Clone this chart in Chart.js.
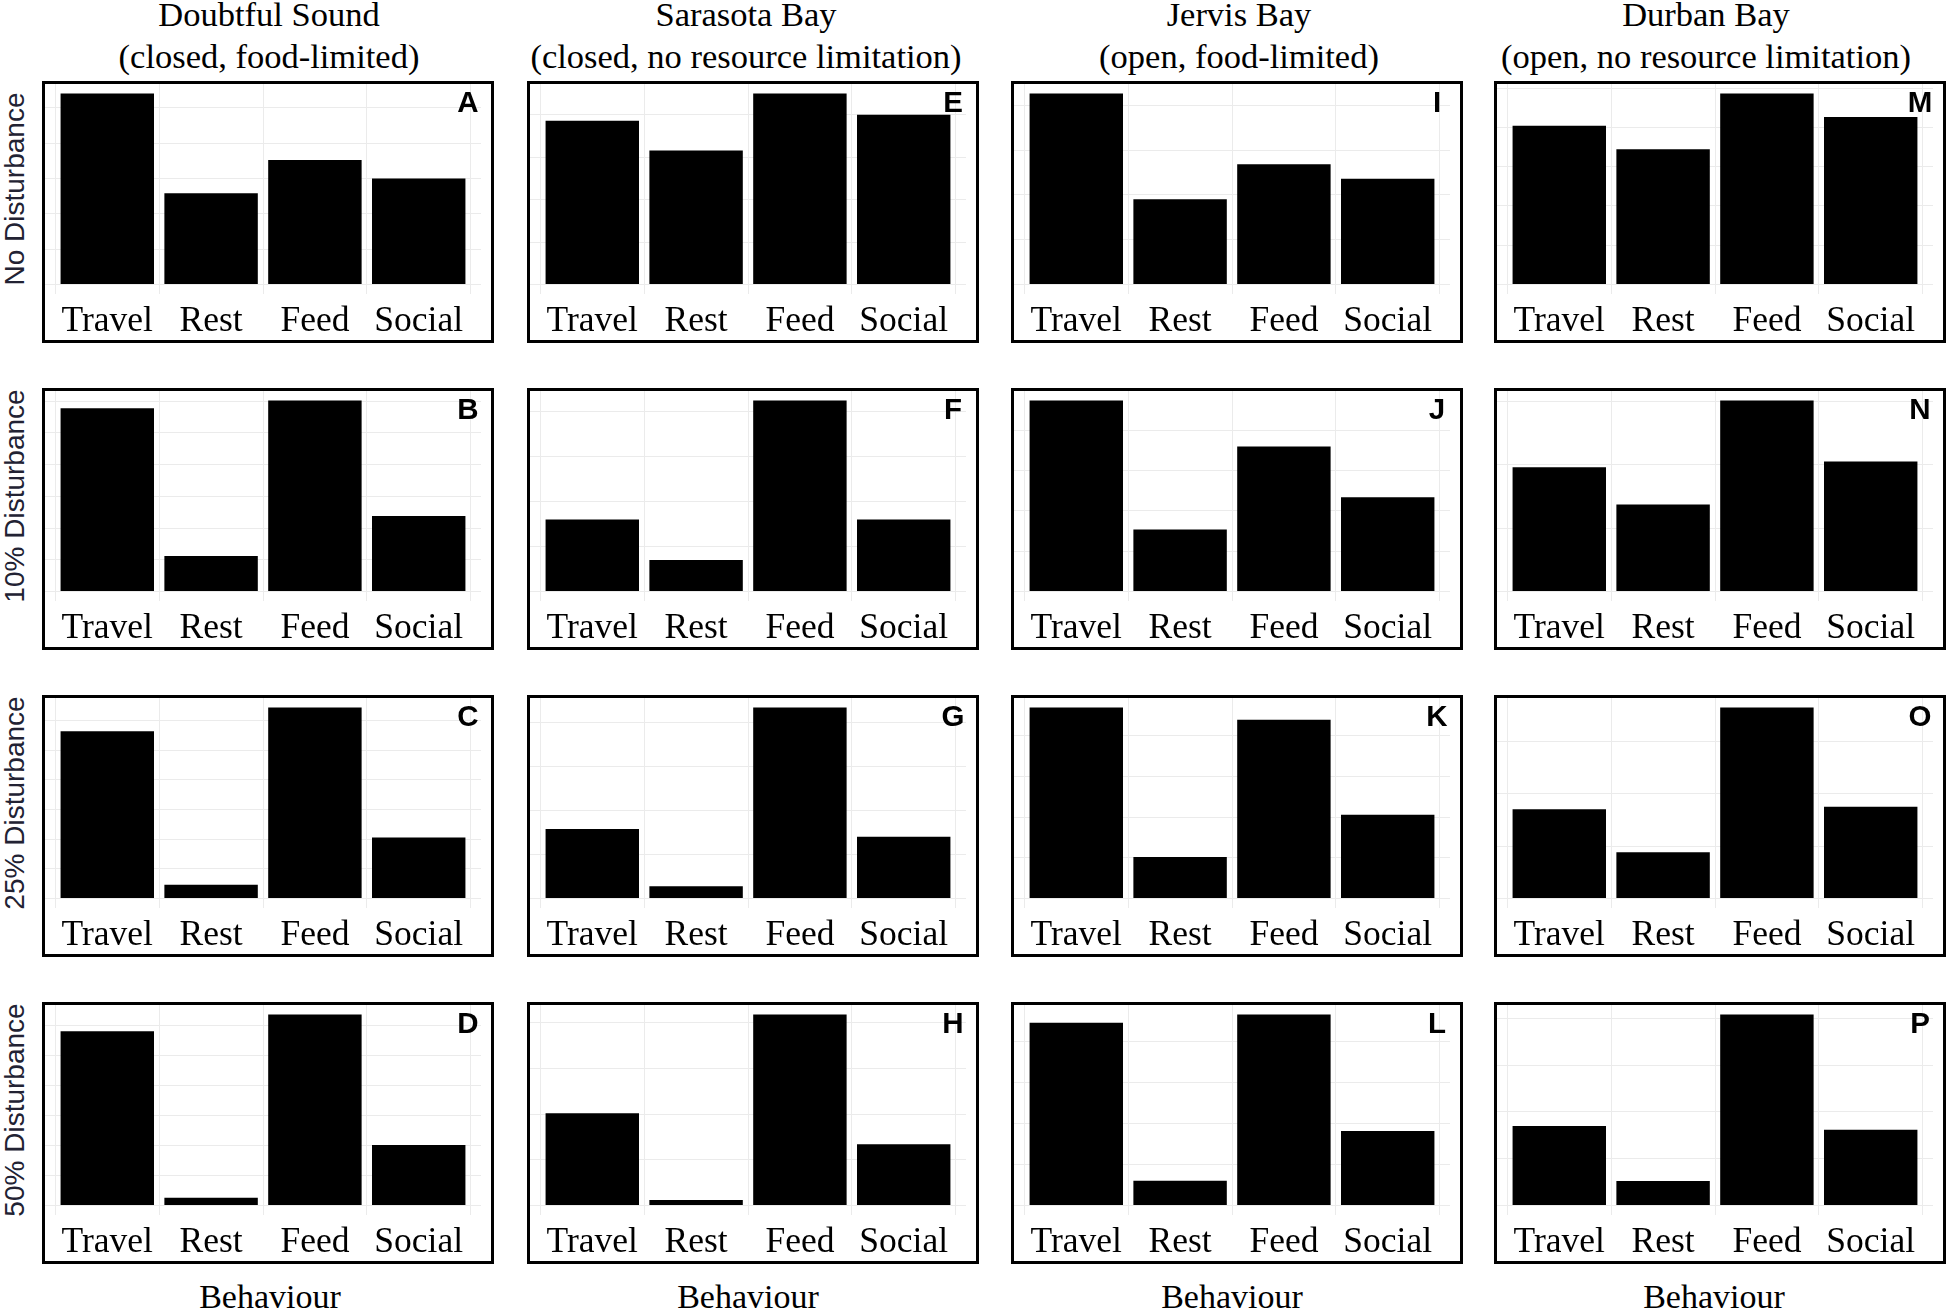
<!DOCTYPE html>
<html>
<head>
<meta charset="utf-8">
<script src="https://cdn.jsdelivr.net/npm/chart.js@4.4.1/dist/chart.umd.min.js"></script>
<style>
    html, body { margin: 0; padding: 0; background: #fff; }
    #page { position: relative; width: 1950px; height: 1313px; overflow: hidden; background: #fff; }
    .panel { position: absolute; width: 452px; height: 262px; border: 3px solid #000; box-sizing: border-box; background: #fff; }
    .panel canvas { position: absolute; left: 0; top: 0; }
    .site { position: absolute; width: 640px; text-align: center; white-space: nowrap;
            font-family: 'Liberation Serif', 'Times New Roman', serif; font-size: 34.5px; line-height: 42px; color: #000; }
    .xtitle { position: absolute; width: 300px; text-align: center; white-space: nowrap;
              font-family: 'Liberation Serif', 'Times New Roman', serif; font-size: 34px; line-height: 34px; color: #000; }
    .rowlab { position: absolute; width: 320px; height: 28px; line-height: 28px; text-align: center; white-space: nowrap;
              font-family: 'Liberation Sans', Arial, sans-serif; font-size: 28px; color: #222233; transform: rotate(-90deg); }
    .letter { position: absolute; width: 50px; text-align: center;
              font-family: 'Liberation Sans', Arial, sans-serif; font-weight: bold; font-size: 29.5px; line-height: 29.5px; color: #000; }
</style>
</head>
<body>
<div id="page"></div>
<script>
// categories and labels
const behaviours = ['Travel', 'Rest', 'Feed', 'Social'];
const siteNames = ['Doubtful Sound', 'Sarasota Bay', 'Jervis Bay', 'Durban Bay'];
const siteNotes = ['(closed, food-limited)', '(closed, no resource limitation)', '(open, food-limited)', '(open, no resource limitation)'];
const disturbanceLevels = ['No Disturbance', '10% Disturbance', '25% Disturbance', '50% Disturbance'];
const panelLetters = [
    ['A', 'B', 'C', 'D'],
    ['E', 'F', 'G', 'H'],
    ['I', 'J', 'K', 'L'],
    ['M', 'N', 'O', 'P']
];
const xAxisTitle = 'Behaviour';

// values per site, one row per disturbance level (Travel, Rest, Feed, Social)
const doubtfulSound = [
    [0.270, 0.129, 0.176, 0.150],
    [0.289, 0.056, 0.301, 0.119],
    [0.282, 0.023, 0.322, 0.103],
    [0.291, 0.013, 0.319, 0.101]
];
const sarasotaBay = [
    [0.193, 0.158, 0.225, 0.200],
    [0.080, 0.035, 0.212, 0.080],
    [0.079, 0.014, 0.217, 0.070],
    [0.101, 0.006, 0.209, 0.067]
];
const jervisBay = [
    [0.213, 0.095, 0.134, 0.118],
    [0.237, 0.077, 0.180, 0.117],
    [0.235, 0.051, 0.220, 0.103],
    [0.223, 0.030, 0.233, 0.091]
];
const durbanBay = [
    [0.202, 0.172, 0.243, 0.213],
    [0.196, 0.137, 0.301, 0.205],
    [0.085, 0.044, 0.182, 0.0875],
    [0.085, 0.026, 0.204, 0.081]
];
const siteValues = [doubtfulSound, sarasotaBay, jervisBay, durbanBay];

// grid line spacing of each panel (free y scales)
const gridSteps = [
    [0.05, 0.05, 0.05, 0.05],
    [0.05, 0.05, 0.05, 0.05],
    [0.05, 0.05, 0.05, 0.05],
    [0.05, 0.1, 0.05, 0.05]
];

// layout (px)
const colLeft = [42, 527, 1011, 1494];
const rowTop = [81, 388, 695, 1002];
const titleCenter = [269, 746, 1239, 1706];
const xTitleCenter = [270, 748, 1232, 1714];
const PANEL_W = 452;
const PANEL_H = 262;
const BORDER = 3;

const page = document.getElementById('page');

function addDiv(cls, text, left, top) {
    const el = document.createElement('div');
    el.className = cls;
    el.textContent = text;
    el.style.left = left + 'px';
    el.style.top = top + 'px';
    page.appendChild(el);
    return el;
}

/**
 * one facet panel
 * @param {number} col - site index
 * @param {number} row - disturbance index
 */
function createPanel(col, row) {
    const values = siteValues[col][row];
    const step = gridSteps[col][row];
    const vmax = Math.max(...values);

    const box = document.createElement('div');
    box.className = 'panel';
    box.style.left = colLeft[col] + 'px';
    box.style.top = rowTop[row] + 'px';
    page.appendChild(box);

    const canvas = document.createElement('canvas');
    canvas.width = PANEL_W - 2 * BORDER;
    canvas.height = PANEL_H - 2 * BORDER;
    box.appendChild(canvas);

    const gridValues = [];
    for (let k = 0; k * step <= vmax * 1.05 + 1e-9; k++) gridValues.push(k * step);

    new Chart(canvas.getContext('2d'), {
        type: 'bar',
        data: {
            datasets: [{
                data: values.map((v, i) => ({ x: i + 1, y: v })),
                backgroundColor: '#000000',
                borderWidth: 0,
                barPercentage: 0.9,
                categoryPercentage: 1.0
            }]
        },
        options: {
            responsive: false,
            animation: false,
            layout: { padding: { left: 0, right: 10, top: 0, bottom: 0 } },
            plugins: {
                legend: { display: false },
                tooltip: { enabled: false }
            },
            scales: {
                x: {
                    type: 'linear',
                    min: 0.4,
                    max: 4.6,
                    offset: false,
                    afterBuildTicks: axis => { axis.ticks = behaviours.map((_, i) => ({ value: i + 1 })); },
                    afterFit: axis => { axis.height = 46; },
                    ticks: {
                        callback: v => behaviours[Math.round(v) - 1],
                        autoSkip: false,
                        maxRotation: 0,
                        padding: 6,
                        color: '#000',
                        font: { family: "'Liberation Serif', 'Times New Roman', serif", size: 35.5 }
                    },
                    grid: { color: '#ebebeb', lineWidth: 1, drawTicks: false },
                    border: { display: false }
                },
                y: {
                    min: -0.05 * vmax,
                    max: 1.05 * vmax,
                    afterBuildTicks: axis => { axis.ticks = gridValues.map(v => ({ value: v })); },
                    afterFit: axis => { axis.width = 0; },
                    ticks: { display: false },
                    grid: { color: '#ebebeb', lineWidth: 1, drawTicks: false },
                    border: { display: false }
                }
            }
        }
    });

    addDiv('letter', panelLetters[col][row], colLeft[col] + 426 - 25, rowTop[row] + 6);
}

// column headings
siteNames.forEach((name, c) => {
    const el = addDiv('site', '', titleCenter[c] - 320, -7);
    el.innerHTML = name + '<br>' + siteNotes[c];
    addDiv('xtitle', xAxisTitle, xTitleCenter[c] - 150, 1280);
});

// row labels
disturbanceLevels.forEach((label, r) => {
    const cy = rowTop[r] + 2 + 105.5;
    addDiv('rowlab', label, 15 - 160, cy - 14);
});

for (let c = 0; c < 4; c++) {
    for (let r = 0; r < 4; r++) createPanel(c, r);
}
</script>
</body>
</html>
